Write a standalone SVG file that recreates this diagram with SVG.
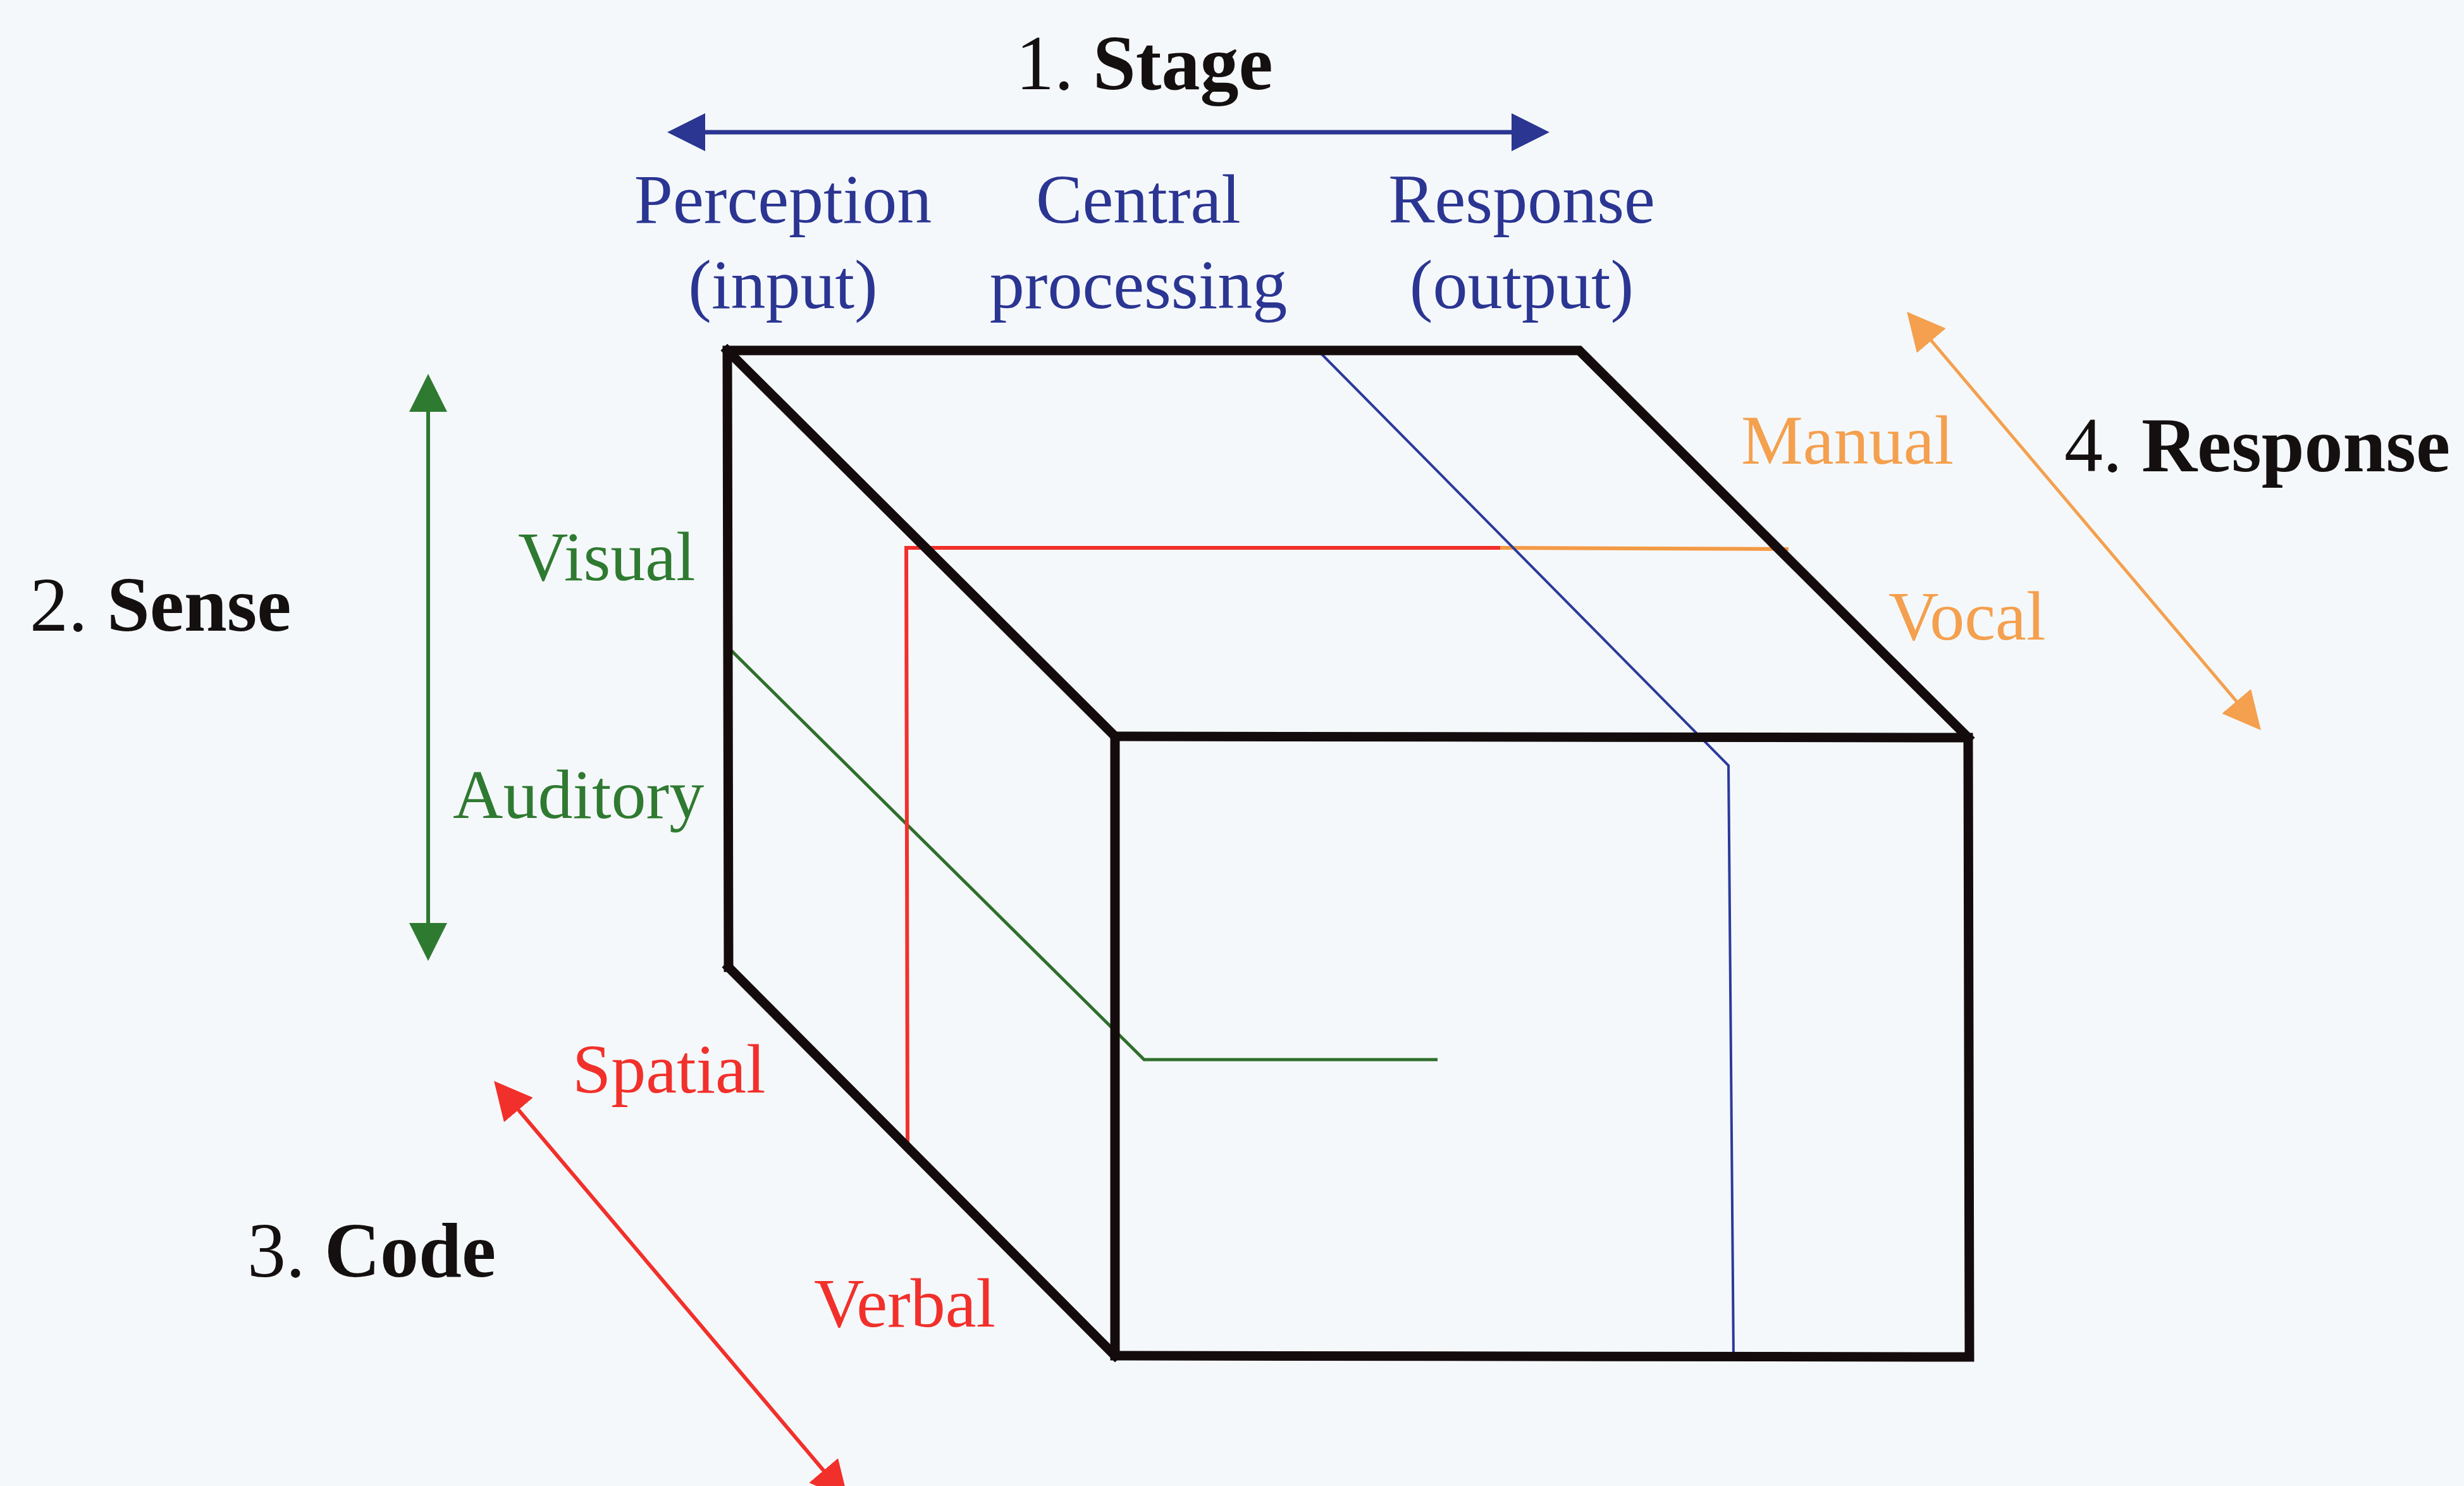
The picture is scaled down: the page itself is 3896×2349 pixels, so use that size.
<svg xmlns="http://www.w3.org/2000/svg" width="3896" height="2349" viewBox="0 0 3896 2349">
  <style>
    text { font-family: "Liberation Serif", "Times New Roman", serif; }
    .lbl { font-size: 110px; }
    .head { font-size: 122px; fill: #141010; }
    .b { font-weight: bold; }
    .blue { fill: #2b3592; }
    .green { fill: #2f7a31; }
    .red { fill: #f2302b; }
    .orange { fill: #f4a04e; }
    .edge { fill: none; stroke: #140c0c; stroke-width: 15; stroke-linejoin: miter; stroke-linecap: square; }
    .axis { fill: none; stroke-linecap: butt; stroke-linejoin: miter; }
  </style>
  <defs>
    <marker id="hBlue" viewBox="0 -30 60 60" refX="40" refY="0" markerWidth="60" markerHeight="60" markerUnits="userSpaceOnUse" orient="auto-start-reverse">
      <path d="M0,-30 L60,0 L0,30 Z" fill="#2b3592"/>
    </marker>
    <marker id="hGreen" viewBox="0 -30 60 60" refX="40" refY="0" markerWidth="60" markerHeight="60" markerUnits="userSpaceOnUse" orient="auto-start-reverse">
      <path d="M0,-30 L60,0 L0,30 Z" fill="#2f7a31"/>
    </marker>
    <marker id="hRed" viewBox="0 -30 60 60" refX="40" refY="0" markerWidth="60" markerHeight="60" markerUnits="userSpaceOnUse" orient="auto-start-reverse">
      <path d="M0,-30 L60,0 L0,30 Z" fill="#f2302b"/>
    </marker>
    <marker id="hOrange" viewBox="0 -30 60 60" refX="40" refY="0" markerWidth="60" markerHeight="60" markerUnits="userSpaceOnUse" orient="auto-start-reverse">
      <path d="M0,-30 L60,0 L0,30 Z" fill="#f4a04e"/>
    </marker>
  </defs>

  <rect width="3896" height="2349" fill="#f5f8fb"/>

  <!-- resource paths running through the cube -->
  <g id="cube-paths" class="axis">
    <path d="M1152,1024 L1809,1675 L2273,1675" stroke="#2f6f2c" stroke-width="5"/>
    <path d="M1435,1808 L1433,866 L2372,866" stroke="#f2302b" stroke-width="6"/>
    <path d="M2372,866 L2828,868" stroke="#f39a45" stroke-width="6"/>
    <path d="M2085,555 L2733,1210 L2741,2146" stroke="#2c3a9c" stroke-width="4"/>
  </g>

  <!-- the cube itself -->
  <g id="cube">
    <path class="edge" d="M1763,1164 L3112,1166 L3114,2145 L1763,2143 Z"/>
    <path class="edge" d="M1152,1529 L1150,554 L2497,554 L3112,1166"/>
    <path class="edge" d="M1150,554 L1763,1164"/>
    <path class="edge" d="M1152,1529 L1763,2143"/>
  </g>

  <!-- dimension arrows -->
  <g id="connectors" class="axis">
    <path d="M1075,209 L2430,209" stroke="#2b3592" stroke-width="7" marker-start="url(#hBlue)" marker-end="url(#hBlue)"/>
    <path d="M677,611 L677,1499" stroke="#2f7a31" stroke-width="6" marker-start="url(#hGreen)" marker-end="url(#hGreen)"/>
    <path d="M794,1724 L1328,2355" stroke="#f2302b" stroke-width="6" marker-start="url(#hRed)" marker-end="url(#hRed)"/>
    <path d="M3028,508 L3562,1139" stroke="#f4a04e" stroke-width="5" marker-start="url(#hOrange)" marker-end="url(#hOrange)"/>
  </g>

  <!-- 1. Stage -->
  <g id="stage">
    <text class="head" x="1606" y="141">1. <tspan class="b">Stage</tspan></text>
    <text class="lbl blue" x="1238" y="352" text-anchor="middle">Perception</text>
    <text class="lbl blue" x="1238" y="487" text-anchor="middle">(input)</text>
    <text class="lbl blue" x="1800" y="352" text-anchor="middle">Central</text>
    <text class="lbl blue" x="1800" y="487" text-anchor="middle">processing</text>
    <text class="lbl blue" x="2406" y="352" text-anchor="middle">Response</text>
    <text class="lbl blue" x="2406" y="487" text-anchor="middle">(output)</text>
  </g>

  <!-- 2. Sense -->
  <g id="sense">
    <text class="head" x="47" y="997">2. <tspan class="b">Sense</tspan></text>
    <text class="lbl green" x="819" y="917">Visual</text>
    <text class="lbl green" x="716" y="1293">Auditory</text>
  </g>

  <!-- 3. Code -->
  <g id="code">
    <text class="head" x="391" y="2018">3. <tspan class="b">Code</tspan></text>
    <text class="lbl red" x="905" y="1727">Spatial</text>
    <text class="lbl red" x="1287" y="2097">Verbal</text>
  </g>

  <!-- 4. Response -->
  <g id="response">
    <text class="head" x="3264" y="745">4. <tspan class="b">Response</tspan></text>
    <text class="lbl orange" x="2753" y="733">Manual</text>
    <text class="lbl orange" x="2986" y="1011">Vocal</text>
  </g>
</svg>
